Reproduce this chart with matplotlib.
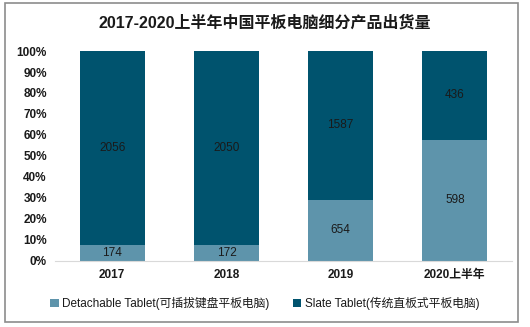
import numpy as np
import matplotlib
matplotlib.use("Agg")
import matplotlib.pyplot as plt
from matplotlib.patches import Rectangle

plt.rcParams["font.family"] = ["Arial", "Liberation Sans", "Noto Sans CJK SC", "DejaVu Sans"]

years = ["2017", "2018", "2019", "2020上半年"]
detachable = [174, 172, 654, 598]
slate = [2056, 2050, 1587, 436]

c_det = "#5E94AB"
c_slate = "#00536E"

det = np.array(detachable, dtype=float)
sla = np.array(slate, dtype=float)
total = det + sla
det_pct = det / total * 100
sla_pct = sla / total * 100

fig = plt.figure(figsize=(5.3, 3.27), dpi=100, facecolor="white")
fig.patches.append(Rectangle((0.01, 0.015), 0.967, 0.975, transform=fig.transFigure,
                             fill=False, edgecolor="#8c8c8c", lw=1.2))

ax = fig.add_axes([0.104, 0.202, 0.862, 0.642])
x = np.arange(len(years))
w = 0.57
ax.bar(x, det_pct, w, color=c_det, label="Detachable Tablet(可插拔键盘平板电脑)")
ax.bar(x, sla_pct, w, bottom=det_pct, color=c_slate, label="Slate Tablet(传统直板式平板电脑)")

for i in range(len(years)):
    ax.text(x[i], det_pct[i] / 2, f"{detachable[i]}", ha="center", va="center",
            fontsize=8.5, color="#1a1a1a")
    ax.text(x[i], det_pct[i] + sla_pct[i] / 2, f"{slate[i]}", ha="center", va="center",
            fontsize=8.5, color="#1a1a1a")

ax.set_xlim(-0.5, len(years) - 0.5)
ax.set_ylim(0, 100)
ax.set_yticks(np.arange(0, 101, 10))
ax.set_yticklabels([f"{v}%" for v in range(0, 101, 10)])
ax.set_xticks(x)
ax.set_xticklabels(years)
for lab in ax.get_xticklabels() + ax.get_yticklabels():
    lab.set_fontweight("bold")
    lab.set_fontsize(8.5)
    lab.set_color("#1a1a1a")
ax.tick_params(length=0, pad=6)
for s in ["top", "right", "left"]:
    ax.spines[s].set_visible(False)
ax.spines["bottom"].set_color("#d9d9d9")

fig.text(0.5, 0.93, "2017-2020上半年中国平板电脑细分产品出货量", ha="center", va="center",
         fontsize=11.5, fontweight="bold", color="#1a1a1a")

leg = fig.legend(loc="center", bbox_to_anchor=(0.5, 0.072), ncol=2, frameon=False,
                 fontsize=8.5, handlelength=0.7, handleheight=0.7, handletextpad=0.3,
                 columnspacing=2.0)
for t in leg.get_texts():
    t.set_color("#1a1a1a")

plt.savefig("out.png", dpi=100, facecolor="white")
